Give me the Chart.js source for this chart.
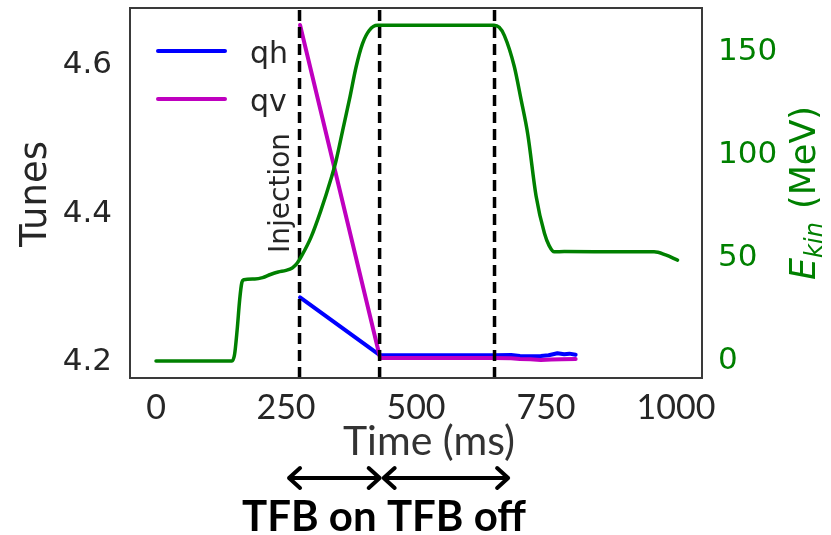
<!DOCTYPE html>
<html>
<head>
<meta charset="utf-8">
<script src="https://cdn.jsdelivr.net/npm/chart.js@4.4.1/dist/chart.umd.min.js"></script>
<style>
  html, body { margin: 0; padding: 0; background: #fff; }
  #wrap { width: 831px; height: 535px; }
</style>
</head>
<body>
<div id="wrap"><canvas id="chart" width="831" height="535"></canvas></div>
<script>
// tunes (qh, qv) vs time in ms
var qhTime = [277, 431, 500, 600, 650, 683, 700, 720, 740, 755, 772, 785, 795, 807];
var qhVal  = [4.287, 4.209, 4.209, 4.209, 4.209, 4.2094, 4.2082, 4.2076, 4.2081, 4.209, 4.2117, 4.2105, 4.2112, 4.2098];
var qvTime = [277, 431, 500, 600, 650, 683, 700, 720, 740, 760, 780, 807];
var qvVal  = [4.654, 4.2054, 4.2054, 4.2054, 4.2054, 4.205, 4.204, 4.2035, 4.2027, 4.2032, 4.2036, 4.204];

// kinetic energy in MeV
var ekinTime = [0, 146, 151, 156, 161, 165, 169, 190, 205, 220, 235, 250, 262, 270, 280, 298, 317, 336, 346, 359, 372, 385, 397, 410, 426, 440, 650, 660, 670, 689, 702, 715, 731, 747, 756, 766, 785, 900, 958, 980, 1003];
var ekinVal  = [0, 0, 3, 15, 30, 38, 39.5, 39.8, 40.5, 42, 43.2, 44, 45.2, 47, 51, 60, 73, 88, 97, 112, 127, 143, 154, 160.5, 163, 163, 163, 162, 158, 143, 127, 110, 80, 62, 56, 53, 53.2, 53, 53, 51.5, 49];

var markerTimes = [276, 430, 651];   // dashed vertical lines
var tfbOn  = [252, 434];
var tfbOff = [434, 681];

var xTicks = [0, 250, 500, 750, 1000];
var tuneTicks = [4.2, 4.4, 4.6];
var ekinTicks = [0, 50, 100, 150];

function pts(xs, ys) {
    return xs.map(function(x, i) { return {x: x, y: ys[i]}; });
}

function noPad(s) {
    s.paddingTop = 0; s.paddingBottom = 0; s.paddingLeft = 0; s.paddingRight = 0;
}

var dark = '#262626';

var overlay = {
    id: 'overlay',
    afterDatasetDraw: function(chart, args) {
        if (args.index !== 1) return;   // after qv, before the energy curve
        var ctx = chart.ctx, xs = chart.scales.x, area = chart.chartArea;
        ctx.save();
        ctx.strokeStyle = '#000';
        ctx.lineWidth = 3.5;
        ctx.setLineDash([11, 6]);
        markerTimes.forEach(function(t) {
            var px = xs.getPixelForValue(t);
            ctx.beginPath();
            ctx.moveTo(px, area.bottom);
            ctx.lineTo(px, area.top);
            ctx.stroke();
        });
        ctx.restore();
    },
    afterDraw: function(chart) {
        var ctx = chart.ctx, xs = chart.scales.x, area = chart.chartArea;
        ctx.save();
        // frame
        ctx.strokeStyle = '#3a3a3a';
        ctx.lineWidth = 2;
        ctx.strokeRect(area.left, area.top, area.right - area.left, area.bottom - area.top);

        // legend
        var items = [[chart.data.datasets[0], 51], [chart.data.datasets[1], 99]];
        items.forEach(function(it) {
            ctx.strokeStyle = it[0].borderColor;
            ctx.lineWidth = 4;
            ctx.lineCap = 'round';
            ctx.beginPath();
            ctx.moveTo(158, it[1]);
            ctx.lineTo(225, it[1]);
            ctx.stroke();
            ctx.fillStyle = dark;
            ctx.font = '30px "DejaVu Sans"';
            ctx.textAlign = 'left';
            ctx.textBaseline = 'alphabetic';
            ctx.fillText(it[0].label, 250, it[1] + 12);
        });

        // Injection
        ctx.save();
        ctx.translate(289, 193);
        ctx.rotate(-Math.PI / 2);
        ctx.fillStyle = dark;
        ctx.font = '28px "DejaVu Sans"';
        ctx.textAlign = 'center';
        ctx.textBaseline = 'alphabetic';
        ctx.fillText('Injection', 0, 0);
        ctx.restore();

        // Tunes title
        ctx.save();
        ctx.translate(36, 194);
        ctx.rotate(-Math.PI / 2);
        ctx.fillStyle = dark;
        ctx.font = '37px "DejaVu Sans"';
        ctx.textAlign = 'center';
        ctx.textBaseline = 'middle';
        ctx.fillText('Tunes', 0, 0);
        ctx.restore();

        // E_kin (MeV) title
        ctx.save();
        ctx.translate(815, 194);
        ctx.rotate(-Math.PI / 2);
        ctx.fillStyle = '#008000';
        ctx.textBaseline = 'alphabetic';
        ctx.textAlign = 'left';
        var fBig = 'italic 35px "DejaVu Sans"', fSub = 'italic 24px "DejaVu Sans"', fNorm = '35px "DejaVu Sans"';
        ctx.font = fBig; var w1 = ctx.measureText('E').width;
        ctx.font = fSub; var w2 = ctx.measureText('kin').width;
        ctx.font = fNorm; var w3 = ctx.measureText(' (MeV)').width;
        var x0 = -(w1 + w2 + w3) / 2;
        ctx.font = fBig; ctx.fillText('E', x0, 0);
        ctx.font = fSub; ctx.fillText('kin', x0 + w1, 7);
        ctx.font = fNorm; ctx.fillText(' (MeV)', x0 + w1 + w2 + 2, 0);
        ctx.restore();

        // Time (ms)
        ctx.fillStyle = '#333';
        ctx.font = '41px Lato';
        ctx.textAlign = 'center';
        ctx.textBaseline = 'alphabetic';
        ctx.fillText('Time (ms)', 429, 455);

        // arrows
        function arrow(a, b, y) {
            var p1 = xs.getPixelForValue(a), p2 = xs.getPixelForValue(b);
            ctx.strokeStyle = '#000';
            ctx.lineWidth = 4;
            ctx.lineCap = 'round';
            ctx.lineJoin = 'round';
            ctx.beginPath();
            ctx.moveTo(p1 + 2, y); ctx.lineTo(p2 - 2, y);
            ctx.moveTo(p1 + 13, y - 10); ctx.lineTo(p1 + 2, y); ctx.lineTo(p1 + 13, y + 10);
            ctx.moveTo(p2 - 13, y - 10); ctx.lineTo(p2 - 2, y); ctx.lineTo(p2 - 13, y + 10);
            ctx.stroke();
        }
        arrow(tfbOn[0], tfbOn[1], 478);
        arrow(tfbOff[0], tfbOff[1], 478);

        ctx.fillStyle = '#000';
        ctx.font = 'bold 42px Lato';
        ctx.fillText('TFB on TFB off', 384, 531);
        ctx.restore();
    }
};

new Chart(document.getElementById('chart').getContext('2d'), {
    type: 'line',
    data: {
        datasets: [{
            label: 'qh',
            data: pts(qhTime, qhVal),
            borderColor: '#0000ff',
            borderWidth: 4,
            yAxisID: 'y',
            order: 2
        }, {
            label: 'qv',
            data: pts(qvTime, qvVal),
            borderColor: '#bf00bf',
            borderWidth: 4,
            yAxisID: 'y',
            order: 1
        }, {
            label: 'Ekin',
            data: pts(ekinTime, ekinVal),
            borderColor: '#008000',
            borderWidth: 3.5,
            cubicInterpolationMode: 'monotone',
            yAxisID: 'y2',
            order: 0
        }]
    },
    options: {
        responsive: false,
        animation: false,
        events: [],
        layout: { padding: { top: 8, left: 0, right: 0, bottom: 0 } },
        elements: { point: { radius: 0 }, line: { tension: 0, borderCapStyle: 'round', borderJoinStyle: 'round' } },
        plugins: { legend: { display: false }, tooltip: { enabled: false } },
        scales: {
            x: {
                type: 'linear',
                min: -50, max: 1050,
                grid: { display: false, drawTicks: false },
                border: { display: false },
                afterBuildTicks: function(s) { s.ticks = xTicks.map(function(v) { return {value: v}; }); },
                afterFit: function(s) { s.height = 157; noPad(s); },
                ticks: { padding: 10, color: dark, font: { family: 'Lato', size: 34 }, maxRotation: 0,
                         callback: function(v) { return String(v); } }
            },
            y: {
                position: 'left',
                min: 4.1784, max: 4.6768,
                grid: { display: false, drawTicks: false },
                border: { display: false },
                afterBuildTicks: function(s) { s.ticks = tuneTicks.map(function(v) { return {value: v}; }); },
                afterFit: function(s) { s.width = 130; noPad(s); },
                ticks: { padding: 18, color: dark, font: { family: '"DejaVu Sans"', size: 31 },
                         callback: function(v) { return v.toFixed(1); } }
            },
            y2: {
                position: 'right',
                min: -8.25, max: 171.4,
                grid: { display: false, drawTicks: false },
                border: { display: false },
                afterBuildTicks: function(s) { s.ticks = ekinTicks.map(function(v) { return {value: v}; }); },
                afterFit: function(s) { s.width = 129; noPad(s); },
                ticks: { padding: 16, color: '#008000', font: { family: '"DejaVu Sans"', size: 31 },
                         callback: function(v) { return String(v); } }
            }
        }
    },
    plugins: [overlay]
});
</script>
</body>
</html>
